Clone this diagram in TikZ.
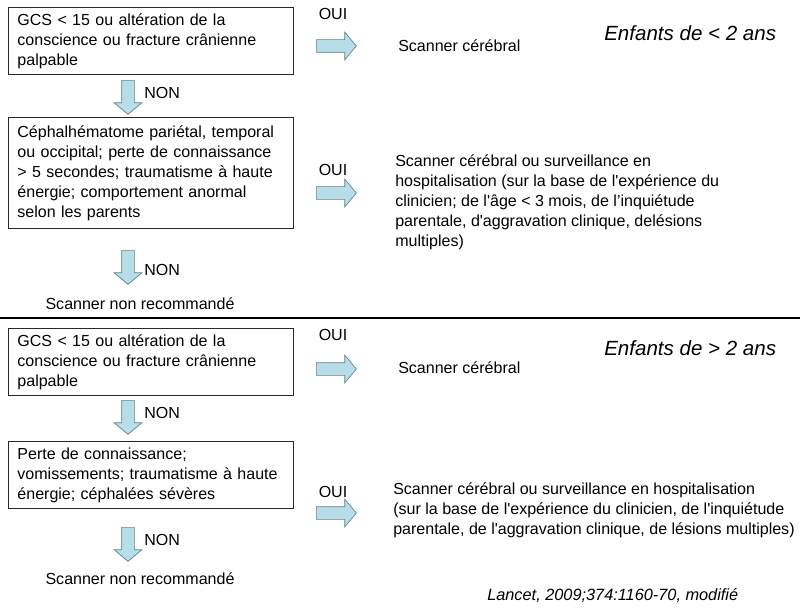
\documentclass[tikz,border=0pt]{standalone}
\usepackage{fontspec}
\setmainfont{Liberation Sans}
\usetikzlibrary{shapes.arrows}
\definecolor{arrowfill}{RGB}{183, 221, 232}
\definecolor{arrowline}{RGB}{96, 132, 144}
\definecolor{boxline}{RGB}{40, 40, 40}

\tikzset{
  txt/.style={font=\fontsize{11.4}{14.2}\selectfont, align=left, inner sep=0pt},
  critbox/.style={txt, draw=boxline, line width=0.6pt, text width=6.675cm, inner xsep=0.225cm, anchor=north west},
  oui/.style={single arrow, draw=arrowline, fill=arrowfill, line width=0.5pt, minimum height=1.0cm, minimum width=0.68cm, inner sep=0.15cm, single arrow head extend=0.19cm, single arrow tip angle=100, anchor=west},
  non/.style={oui, shape border rotate=270, minimum height=0.85cm, anchor=north},
  titre/.style={font=\fontsize{14.6}{16}\selectfont\itshape, inner sep=0pt}
}

\begin{document}
\begin{tikzpicture}[x=0.025cm, y=-0.025cm]
            \useasboundingbox (0,0) rectangle (800,610);
            \node[critbox, minimum height=1.675cm] (gcsA)  at (  8,  7) {GCS < 15 ou altération de la\\conscience ou fracture crânienne\\palpable};
            \node[critbox, minimum height=2.775cm] (cephA) at (  8,117) {Céphalhématome pariétal, temporal\\ou occipital; perte de connaissance\\> 5 secondes; traumatisme à haute\\énergie; comportement anormal\\selon les parents};
            \node[critbox, minimum height=1.675cm] (gcsB)  at (  8,328) {GCS < 15 ou altération de la\\conscience ou fracture crânienne\\palpable};
            \node[critbox, minimum height=1.675cm] (perteB) at ( 8,441) {Perte de connaissance;\\vomissements; traumatisme à haute\\énergie; céphalées sévères};

            \node[oui] (ouiA1) at (316, 46) {};
            \node[oui] (ouiA2) at (316,193) {};
            \node[oui] (ouiB1) at (316,369) {};
            \node[oui] (ouiB2) at (316,513) {};
            \node[txt] (lblA1) at (333, 14) {OUI};
            \node[txt] (lblA2) at (333,170) {OUI};
            \node[txt] (lblB1) at (333,335) {OUI};
            \node[txt] (lblB2) at (333,492) {OUI};

            \node[non] (nonA1) at (128, 80) {};
            \node[non] (nonA2) at (128,250) {};
            \node[non] (nonB1) at (128,400) {};
            \node[non] (nonB2) at (128,527) {};
            \node[txt, anchor=west] (lnA1) at (144, 93) {NON};
            \node[txt, anchor=west] (lnA2) at (144,270) {NON};
            \node[txt, anchor=west] (lnB1) at (144,413) {NON};
            \node[txt, anchor=west] (lnB2) at (144,540) {NON};

            \node[txt, anchor=west] (scanA1) at (398, 46) {Scanner cérébral};
            \node[txt, anchor=west] (scanA2) at (395,202) {Scanner cérébral ou surveillance en\\hospitalisation (sur la base de l\textquotesingle expérience du\\clinicien; de l\textquotesingle âge < 3 mois, de l’inquiétude\\parentale, d\textquotesingle aggravation clinique, delésions\\multiples)};
            \node[txt, anchor=west] (scanB1) at (398,368) {Scanner cérébral};
            \node[txt, anchor=west] (scanB2) at (393,510) {Scanner cérébral ou surveillance en hospitalisation\\(sur la base de l\textquotesingle expérience du clinicien, de l\textquotesingle inquiétude\\parentale, de l\textquotesingle aggravation clinique, de lésions multiples)};

            \node[txt] (nonrecA) at (140,304) {Scanner non recommandé};
            \node[txt] (nonrecB) at (140,579) {Scanner non recommandé};

            \node[titre, anchor=west] (ageA) at (604, 33) {Enfants de < 2 ans};
            \node[titre, anchor=west] (ageB) at (604,348) {Enfants de > 2 ans};
            \node[txt, font=\fontsize{11.6}{13}\selectfont\itshape, anchor=west] (source) at (487,596) {Lancet, 2009;374:1160-70, modifié};

            \draw[line width=1.6pt] (0,318) -- (800,318);
\end{tikzpicture}
\end{document}
